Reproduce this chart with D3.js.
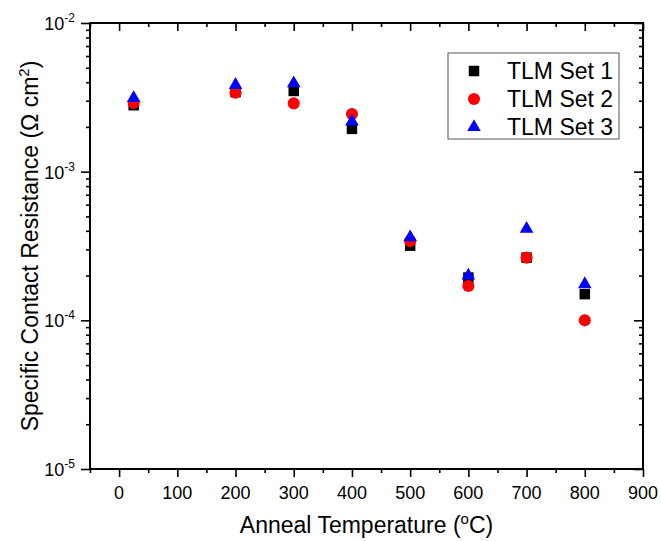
<!DOCTYPE html>
<html>
<head>
<meta charset="utf-8">
<style>
  body { margin: 0; background: #fff; }
  text { font-family: Arial, "Liberation Sans", sans-serif; fill: #000; }
</style>
</head>
<body>
<script src="https://cdn.jsdelivr.net/npm/d3@7"></script>
<script>

  const width = 661,
        height = 541

  // anneal temperatures (°C)
  const temps = [25, 200, 300, 400, 500, 600, 700, 800]
  // specific contact resistance (ohm cm^2)
  const set1 = [2.8e-3, 3.43e-3, 3.49e-3, 1.94e-3, 3.18e-4, 1.94e-4, 2.64e-4, 1.50e-4]
  const set2 = [2.9e-3, 3.4e-3, 2.88e-3, 2.44e-3, 3.42e-4, 1.70e-4, 2.64e-4, 1.0e-4]
  const set3 = [3.13e-3, 3.83e-3, 3.93e-3, 2.17e-3, 3.62e-4, 2.0e-4, 4.12e-4, 1.75e-4]

  const seriesNames = ["TLM Set 1", "TLM Set 2", "TLM Set 3"]
  const xTicks = [0, 100, 200, 300, 400, 500, 600, 700, 800, 900]
  const yExps = [-5, -4, -3, -2]

  const plot = {left: 90, right: 643, top: 23, bottom: 469}

  const xScale = d3.scaleLinear()
    .domain([-50, 900])
    .range([plot.left, plot.right])

  const yScale = d3.scaleLog()
    .domain([1e-5, 1e-2])
    .range([plot.bottom, plot.top])

  const svg = d3.select("body")
    .append("svg")
      .attr("width", width)
      .attr("height", height)

  // tick value lists
  const xMinor = d3.range(-50, 901, 100)
  const yMajor = yExps.map(e => Math.pow(10, e))
  const yMinor = []
  yExps.slice(0, -1).forEach(e => {
    for (let k = 2; k < 10; k++) yMinor.push(k * Math.pow(10, e))
  })

  function styleAxis(g) {
    g.select(".domain").remove()
    g.selectAll("line").attr("stroke", "#000").attr("stroke-width", 1.6)
  }

  // bottom axis (outward ticks)
  svg.append("g")
    .attr("transform", `translate(0, ${plot.bottom})`)
    .call(d3.axisBottom(xScale).tickValues(xTicks).tickSize(8).tickFormat(""))
    .call(styleAxis)
  svg.append("g")
    .attr("transform", `translate(0, ${plot.bottom})`)
    .call(d3.axisBottom(xScale).tickValues(xMinor).tickSize(4).tickFormat(""))
    .call(styleAxis)
  // top axis (inward ticks)
  svg.append("g")
    .attr("transform", `translate(0, ${plot.top})`)
    .call(d3.axisBottom(xScale).tickValues(xTicks).tickSize(8).tickFormat(""))
    .call(styleAxis)
  svg.append("g")
    .attr("transform", `translate(0, ${plot.top})`)
    .call(d3.axisBottom(xScale).tickValues(xMinor).tickSize(4).tickFormat(""))
    .call(styleAxis)

  // left axis (outward ticks)
  svg.append("g")
    .attr("transform", `translate(${plot.left}, 0)`)
    .call(d3.axisLeft(yScale).tickValues(yMajor).tickSize(9).tickFormat(""))
    .call(styleAxis)
  svg.append("g")
    .attr("transform", `translate(${plot.left}, 0)`)
    .call(d3.axisLeft(yScale).tickValues(yMinor).tickSize(4).tickFormat(""))
    .call(styleAxis)
  // right axis (inward ticks)
  svg.append("g")
    .attr("transform", `translate(${plot.right}, 0)`)
    .call(d3.axisLeft(yScale).tickValues(yMajor).tickSize(9).tickFormat(""))
    .call(styleAxis)
  svg.append("g")
    .attr("transform", `translate(${plot.right}, 0)`)
    .call(d3.axisLeft(yScale).tickValues(yMinor).tickSize(4).tickFormat(""))
    .call(styleAxis)

  // frame
  svg.append("rect")
    .attr("x", plot.left)
    .attr("y", plot.top)
    .attr("width", plot.right - plot.left)
    .attr("height", plot.bottom - plot.top)
    .attr("fill", "none")
    .attr("stroke", "#000")
    .attr("stroke-width", 2)

  // x tick labels
  svg.selectAll(".xLabel")
    .data(xTicks)
    .enter()
    .append("text")
      .attr("class", "xLabel")
      .attr("x", d => xScale(d))
      .attr("y", plot.bottom + 30)
      .style("text-anchor", "middle")
      .style("font-size", "18px")
      .text(d => d)

  // y tick labels: 10^n
  const yLab = svg.selectAll(".yLabel")
    .data(yExps)
    .enter()
    .append("text")
      .attr("class", "yLabel")
      .attr("x", 75)
      .attr("y", d => yScale(Math.pow(10, d)) + 7)
      .style("text-anchor", "end")
      .style("font-size", "18px")
  yLab.append("tspan").text("10")
  yLab.append("tspan")
    .attr("dy", -8)
    .style("font-size", "12px")
    .text(d => d)

  // axis titles
  const xTitle = svg.append("text")
    .attr("x", (plot.left + plot.right) / 2)
    .attr("y", 533)
    .style("text-anchor", "middle")
    .style("font-size", "23px")
  xTitle.append("tspan").text("Anneal Temperature (")
  xTitle.append("tspan").attr("dy", -9).style("font-size", "15px").text("o")
  xTitle.append("tspan").attr("dy", 9).text("C)")

  const yTitle = svg.append("text")
    .attr("transform", `translate(38, ${(plot.top + plot.bottom) / 2}) rotate(-90)`)
    .style("text-anchor", "middle")
    .style("font-size", "23px")
  yTitle.append("tspan").text("Specific Contact Resistance (\u03A9 cm")
  yTitle.append("tspan").attr("dy", -9).style("font-size", "15px").text("2")
  yTitle.append("tspan").attr("dy", 9).text(")")

  // markers
  const shapes = [
    {sym: d3.symbolSquare, size: 110, color: "#000"},
    {sym: d3.symbolCircle, size: 115, color: "#ff0000"},
    {sym: d3.symbolTriangle, size: 80, color: "#0000ff"}
  ]
  const allSets = [set1, set2, set3]

  allSets.forEach((vals, s) => {
    svg.selectAll(`.pt${s}`)
      .data(vals)
      .enter()
      .append("path")
        .attr("class", `pt${s}`)
        .attr("d", d3.symbol().type(shapes[s].sym).size(shapes[s].size))
        .attr("transform", (d, i) => `translate(${xScale(temps[i])}, ${yScale(d)})`)
        .attr("fill", shapes[s].color)
  })

  // legend
  const legend = svg.append("g")
    .attr("transform", "translate(448, 53)")
  legend.append("rect")
    .attr("width", 171)
    .attr("height", 86)
    .attr("fill", "#fff")
    .attr("stroke", "#555")
    .attr("stroke-width", 1)
  seriesNames.forEach((name, s) => {
    const yRow = 18 + s * 28
    legend.append("path")
      .attr("d", d3.symbol().type(shapes[s].sym).size(shapes[s].size))
      .attr("transform", `translate(26, ${yRow})`)
      .attr("fill", shapes[s].color)
    legend.append("text")
      .attr("x", 59)
      .attr("y", yRow + 8)
      .style("font-size", "23px")
      .text(name)
  })

</script>
</body>
</html>
